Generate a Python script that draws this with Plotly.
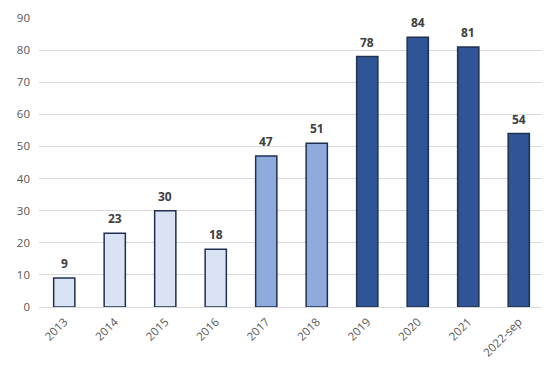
import plotly.graph_objects as go

categories = ["2013", "2014", "2015", "2016", "2017", "2018", "2019", "2020", "2021", "2022-sep"]
values = [9, 23, 30, 18, 47, 51, 78, 84, 81, 54]
bar_colors = ["#DAE3F3"] * 4 + ["#8FAADC"] * 2 + ["#2F5597"] * 4
y_ticks = [0, 10, 20, 30, 40, 50, 60, 70, 80, 90]

fig = go.Figure(go.Bar(
    x=categories, y=values,
    marker=dict(color=bar_colors, line=dict(color="#1F3050", width=1.5)),
    width=0.42,
))

# value labels; on a category axis annotations use the category index
for i, v in enumerate(values):
    fig.add_annotation(x=i, y=v, text=str(v), showarrow=False, yanchor="bottom",
                       yshift=4,
                       font=dict(family="Open Sans", size=12, color="#404040", weight="bold"))

# page body has an 8px margin; figure sized/offset to compensate
fig.update_layout(
    width=542, height=357,
    margin=dict(l=31, r=6, t=10, b=58),
    paper_bgcolor="white", plot_bgcolor="white",
    showlegend=False,
    font=dict(family="Open Sans", size=11, color="#595959"),
    xaxis=dict(type="category", categoryorder="array", categoryarray=categories,
               range=[-0.5, len(categories) - 0.5],
               tickangle=-45, showgrid=False, showline=False, ticks="",
               automargin=False, ticklabelstandoff=5,
               tickfont=dict(size=11.5, color="#595959")),
    yaxis=dict(range=[0, 90], tickvals=y_ticks, showgrid=True, gridcolor="#D9D9D9",
               gridwidth=1, zeroline=True, zerolinecolor="#D9D9D9", zerolinewidth=1,
               showline=False, ticks="", ticklabelstandoff=8, automargin=False,
               tickfont=dict(size=11.5, color="#595959")),
)

fig.write_html("out.html")
